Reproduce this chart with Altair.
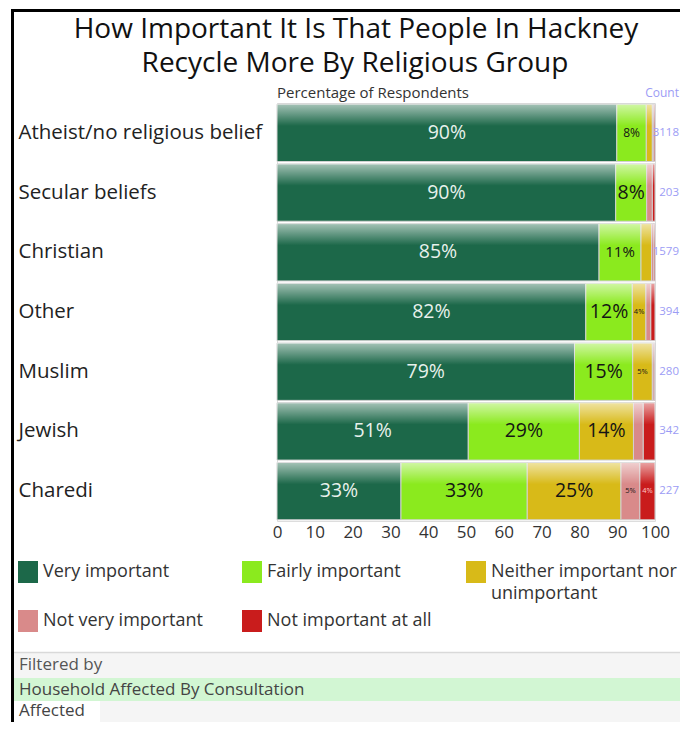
import altair as alt
import pandas as pd

FONT = "Open Sans"

groups = ["Atheist/no religious belief", "Secular beliefs", "Christian", "Other",
          "Muslim", "Jewish", "Charedi"]
responses = ["Very important", "Fairly important", "Neither important nor unimportant",
             "Not very important", "Not important at all"]
very = [89.9, 89.6, 85.2, 81.7, 78.7, 50.6, 32.8]
fairly = [7.8, 8.2, 11.1, 12.3, 15.4, 29.4, 33.4]
neither = [1.6, 0.0, 2.8, 3.6, 5.2, 14.3, 24.8]
not_very = [0.4, 1.5, 0.6, 1.3, 0.5, 2.6, 5.0]
not_at_all = [0.3, 0.7, 0.3, 1.1, 0.2, 3.1, 4.0]
counts = [3118, 203, 1579, 394, 280, 342, 227]
colors = ["#1c6849", "#8bea1e", "#d8ba18", "#d98a8a", "#c91c1c"]
x_ticks = [0, 10, 20, 30, 40, 50, 60, 70, 80, 90, 100]
title_lines = ["How Important It Is That People In Hackney", "Recycle More By Religious Group"]

series = [very, fairly, neither, not_very, not_at_all]
rows = []
for gi, g in enumerate(groups):
    for ri, r in enumerate(responses):
        rows.append({"group": g, "response": r, "order": ri, "value": series[ri][gi]})
df = pd.DataFrame(rows)
count_df = pd.DataFrame({"group": groups, "count": counts})
dummy = pd.DataFrame({"k": [0]})

ysort = groups

x_scale = alt.Scale(domain=[0, 100], nice=False, zero=True)
x_axis = alt.Axis(values=x_ticks, ticks=False, domain=False, grid=False,
                  labelFontSize=17, labelColor="#333333", labelPadding=3,
                  labelFont=FONT, title=None, labelOverlap=False, labelFlush=False)
y_scale = alt.Scale(paddingInner=0.04, paddingOuter=0.02)
y_axis = alt.Axis(title=None, ticks=False, tickSize=0, domain=False,
                  labelAlign="left", labelPadding=259, labelFontSize=20.5,
                  labelColor="#222222", labelFont=FONT, labelLimit=400)

base = alt.Chart(df).transform_filter("datum.value > 0").transform_stack(
    stack="value", as_=["x0", "x1"], groupby=["group"],
    sort=[alt.SortField("order", order="ascending")]
)

bars = base.mark_bar(stroke="#d2d2d2", strokeWidth=1).encode(
    x=alt.X("x0:Q", title=None, scale=x_scale, axis=x_axis),
    x2="x1:Q",
    y=alt.Y("group:N", sort=ysort, title=None, scale=y_scale, axis=y_axis),
    color=alt.Color("response:N",
                    scale=alt.Scale(domain=responses, range=colors),
                    legend=alt.Legend(
                        title=None, orient="none", legendX=-260, legendY=458,
                        direction="horizontal", columns=3, columnPadding=12,
                        rowPadding=27, gridAlign="all",
                        symbolType="M-0.91,-1H0.91V1H-0.91Z", symbolSize=484,
                        symbolStrokeWidth=0, symbolOpacity=1,
                        labelFontSize=18, labelColor="#333333", labelFont=FONT,
                        labelLimit=400, labelOffset=4,
                        labelExpr="datum.label == 'Neither important nor unimportant' ? 'Neither important nor' : datum.label")),
)

legend_wrap = alt.Chart(dummy).mark_text(
    text="unimportant", font=FONT, fontSize=18, align="left", baseline="middle",
    color="#333333"
).encode(x=alt.value(214), y=alt.value(491))

grad = alt.LinearGradient(
    gradient="linear", x1=0, x2=0, y1=0, y2=1,
    stops=[alt.GradientStop(color="rgba(255,255,255,0.6)", offset=0),
           alt.GradientStop(color="rgba(255,255,255,0)", offset=0.38),
           alt.GradientStop(color="rgba(255,255,255,0)", offset=1)])

overlay = base.mark_bar(fill=grad, strokeWidth=0).encode(
    x=alt.X("x0:Q", title=None, scale=x_scale, axis=x_axis), x2="x1:Q",
    y=alt.Y("group:N", sort=ysort, title=None, scale=y_scale, axis=y_axis),
)

labels = base.transform_filter("datum.value >= 3.5").transform_calculate(
    mid="(datum.x0 + datum.x1) / 2",
    lbl="format(round(datum.value), 'd') + '%'",
    fs="datum.value < 6 ? 7.5 : datum.value < 8 ? 12 : (datum.value > 10.5 && datum.value < 12) ? 15 : 19.5",
    tc="datum.response == 'Very important' ? '#e8f1ec' : datum.response == 'Not important at all' ? '#ffc8c8' : '#151515'",
).mark_text(font=FONT, baseline="middle", align="center").encode(
    x=alt.X("mid:Q", title=None, scale=x_scale, axis=x_axis),
    y=alt.Y("group:N", sort=ysort, title=None, scale=y_scale, axis=y_axis),
    text="lbl:N",
    size=alt.Size("fs:Q", scale=None, legend=None),
    color=alt.Color("tc:N", scale=None, legend=None),
)

count_text = alt.Chart(count_df).mark_text(
    font=FONT, fontSize=11.5, align="right", baseline="middle", color="#9c9cf5"
).encode(
    x=alt.value(402),
    y=alt.Y("group:N", sort=ysort, title=None, scale=y_scale, axis=y_axis),
    text="count:N",
)

title1 = alt.Chart(dummy).mark_text(
    text=title_lines[0], font=FONT, fontSize=28, align="center", baseline="middle",
    color="#111111"
).encode(x=alt.value(79), y=alt.value(-73.5))
title2 = alt.Chart(dummy).mark_text(
    text=title_lines[1], font=FONT, fontSize=28, align="center", baseline="middle",
    color="#111111"
).encode(x=alt.value(78), y=alt.value(-39))

pct_title = alt.Chart(dummy).mark_text(
    text="Percentage of Respondents", font=FONT, fontSize=15, align="left",
    baseline="middle", color="#333333"
).encode(x=alt.value(0), y=alt.value(-10))

count_title = alt.Chart(dummy).mark_text(
    text="Count", font=FONT, fontSize=12, align="right", baseline="middle",
    color="#9c9cf5"
).encode(x=alt.value(402), y=alt.value(-10))

border = alt.Chart(dummy).mark_rect(fill="transparent", stroke="black", strokeWidth=3).encode(
    x=alt.value(-264.5), x2=alt.value(480), y=alt.value(-92.5), y2=alt.value(700))
border_top = alt.Chart(dummy).mark_rect(color="black").encode(
    x=alt.value(-266), x2=alt.value(403), y=alt.value(-94), y2=alt.value(-91))

filter_bg = alt.Chart(dummy).mark_rect(color="#f5f5f5").encode(
    x=alt.value(-263), x2=alt.value(403), y=alt.value(550), y2=alt.value(625))
filter_line = alt.Chart(dummy).mark_rule(color="#d9d9d9", strokeWidth=1.5).encode(
    x=alt.value(-263), x2=alt.value(403), y=alt.value(549.5))
filter_green = alt.Chart(dummy).mark_rect(color="#d2f6d3").encode(
    x=alt.value(-263), x2=alt.value(403), y=alt.value(575), y2=alt.value(598))
filter_white = alt.Chart(dummy).mark_rect(color="#ffffff").encode(
    x=alt.value(-263), x2=alt.value(-177), y=alt.value(598), y2=alt.value(625))
filtered_by = alt.Chart(dummy).mark_text(
    text="Filtered by", font=FONT, fontSize=17, align="left", baseline="middle",
    color="#555555").encode(x=alt.value(-258), y=alt.value(562))
household = alt.Chart(dummy).mark_text(
    text="Household Affected By Consultation", font=FONT, fontSize=17, align="left",
    baseline="middle", color="#444444").encode(x=alt.value(-258), y=alt.value(586.5))
affected = alt.Chart(dummy).mark_text(
    text="Affected", font=FONT, fontSize=17, align="left", baseline="middle",
    color="#444444").encode(x=alt.value(-258), y=alt.value(607.5))

chart = alt.layer(
    filter_bg, filter_line, filter_green, filter_white, filtered_by, household, affected,
    bars, overlay, labels, count_text, title1, title2, pct_title, count_title,
    legend_wrap, border, border_top,
).properties(
    width=378, height=418,
    autosize=alt.AutoSizeParams(type="none"),
    padding={"left": 269, "top": 95, "right": 25, "bottom": 201},
).configure_view(stroke=None).configure(font=FONT)

chart.save("out.html", embed_options={"renderer": "svg", "actions": False})
